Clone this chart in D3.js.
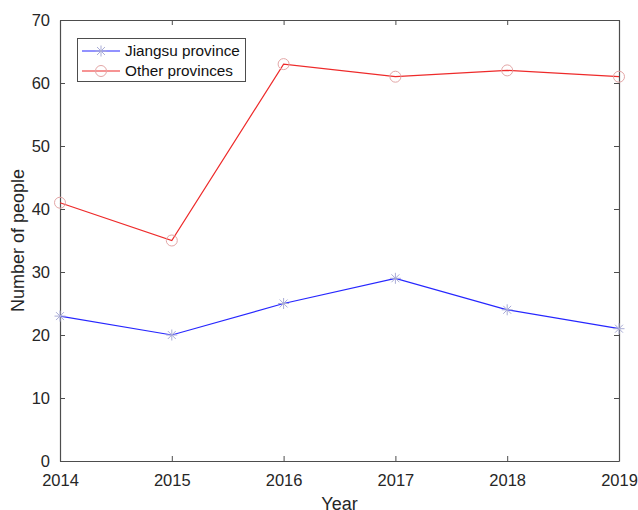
<!DOCTYPE html>
<html>
<head>
<meta charset="utf-8">
<script src="https://cdn.jsdelivr.net/npm/d3@7"></script>
<style>
  html, body { margin: 0; padding: 0; background: #fff; }
  svg { display: block; font-family: "Liberation Sans", Arial, Helvetica, sans-serif; }
</style>
</head>
<body>
<svg id="chart" width="638" height="510"></svg>
<script>
// Yearly counts of people, Jiangsu vs other provinces
const years = [2014, 2015, 2016, 2017, 2018, 2019];
const jiangsu = [23, 20, 25, 29, 24, 21];
const others = [41, 35, 63, 61, 62, 61];
const yTicks = [0, 10, 20, 30, 40, 50, 60, 70];
const seriesNames = ["Jiangsu province", "Other provinces"];

const svg = d3.select("#chart");
const m = { left: 60, right: 619, top: 20, bottom: 461 };
const axisColor = "#4d4d4d";

const x = d3.scaleLinear().domain([2014, 2019]).range([m.left, m.right]);
const y = d3.scaleLinear().domain([0, 70]).range([m.bottom, m.top]);

// Bottom and left axes with inward ticks
const gx = svg.append("g").attr("transform", `translate(0,${m.bottom})`)
  .call(d3.axisBottom(x).tickValues(years).tickFormat(d3.format("d")).tickSizeInner(-5).tickSizeOuter(0).tickPadding(13));
const gy = svg.append("g").attr("transform", `translate(${m.left},0)`)
  .call(d3.axisLeft(y).tickValues(yTicks).tickSizeInner(-5).tickSizeOuter(0).tickPadding(10));
// Top and right axes: ticks only, no labels
const gt = svg.append("g").attr("transform", `translate(0,${m.top})`)
  .call(d3.axisTop(x).tickValues(years).tickFormat("").tickSizeInner(-5).tickSizeOuter(0));
const gr = svg.append("g").attr("transform", `translate(${m.right},0)`)
  .call(d3.axisRight(y).tickValues(yTicks).tickFormat("").tickSizeInner(-5).tickSizeOuter(0));

[gx, gy, gt, gr].forEach(g => {
  g.selectAll("path").attr("stroke", axisColor).attr("stroke-width", 1.2);
  g.selectAll("line").attr("stroke", axisColor);
  g.selectAll("text").attr("fill", "#262626").style("font-size", "16.5px").style("font-family", "Liberation Sans, Arial, sans-serif");
});
gx.selectAll("text").attr("dy", "0.71em");

// Axis titles
svg.append("text").attr("x", (m.left + m.right) / 2).attr("y", 510)
  .attr("text-anchor", "middle").attr("fill", "#262626").style("font-size", "18px").text("Year");
svg.append("text").attr("transform", `translate(24,${(m.top + m.bottom) / 2}) rotate(-90)`)
  .attr("text-anchor", "middle").attr("fill", "#262626").style("font-size", "18px").text("Number of people");

// Series lines
const line = d3.line().x((d, i) => x(years[i])).y(d => y(d));
svg.append("path").datum(jiangsu).attr("d", line).attr("fill", "none").attr("stroke", "#2626ff").attr("stroke-width", 1.2);
svg.append("path").datum(others).attr("d", line).attr("fill", "none").attr("stroke", "#ee2a2a").attr("stroke-width", 1.2);

// Markers
const starColor = "#a9acd6";
const circColor = "#e3a6a6";
function star(g, cx, cy, r) {
  const s = g.append("g").attr("transform", `translate(${cx},${cy})`).attr("stroke", starColor).attr("stroke-width", 1);
  s.append("line").attr("x1", -r).attr("x2", r).attr("y1", 0).attr("y2", 0);
  s.append("line").attr("x1", 0).attr("x2", 0).attr("y1", -r).attr("y2", r);
  const k = r * 0.72;
  s.append("line").attr("x1", -k).attr("x2", k).attr("y1", -k).attr("y2", k);
  s.append("line").attr("x1", -k).attr("x2", k).attr("y1", k).attr("y2", -k);
}
const mk = svg.append("g");
jiangsu.forEach((v, i) => star(mk, x(years[i]), y(v), 5.5));
others.forEach((v, i) => mk.append("circle").attr("cx", x(years[i])).attr("cy", y(v)).attr("r", 5.5)
  .attr("fill", "none").attr("stroke", circColor).attr("stroke-width", 1));

// Legend
const lg = svg.append("g");
lg.append("rect").attr("x", 77.5).attr("y", 38.5).attr("width", 168).attr("height", 43)
  .attr("fill", "#fff").attr("stroke", axisColor).attr("stroke-width", 1);
const rows = [{ c: "#2626ff", yy: 51 }, { c: "#ee2a2a", yy: 71 }];
rows.forEach((r, i) => {
  lg.append("line").attr("x1", 82).attr("x2", 120).attr("y1", r.yy).attr("y2", r.yy).attr("stroke", r.c).attr("stroke-width", 1.2);
  if (i === 0) star(lg, 101, r.yy, 5.5);
  else lg.append("circle").attr("cx", 101).attr("cy", r.yy).attr("r", 5.5).attr("fill", "none").attr("stroke", circColor);
  lg.append("text").attr("x", 125).attr("y", r.yy).attr("dy", "0.35em").attr("fill", "#111")
    .style("font-size", "15.3px").text(seriesNames[i]);
});
</script>
</body>
</html>
